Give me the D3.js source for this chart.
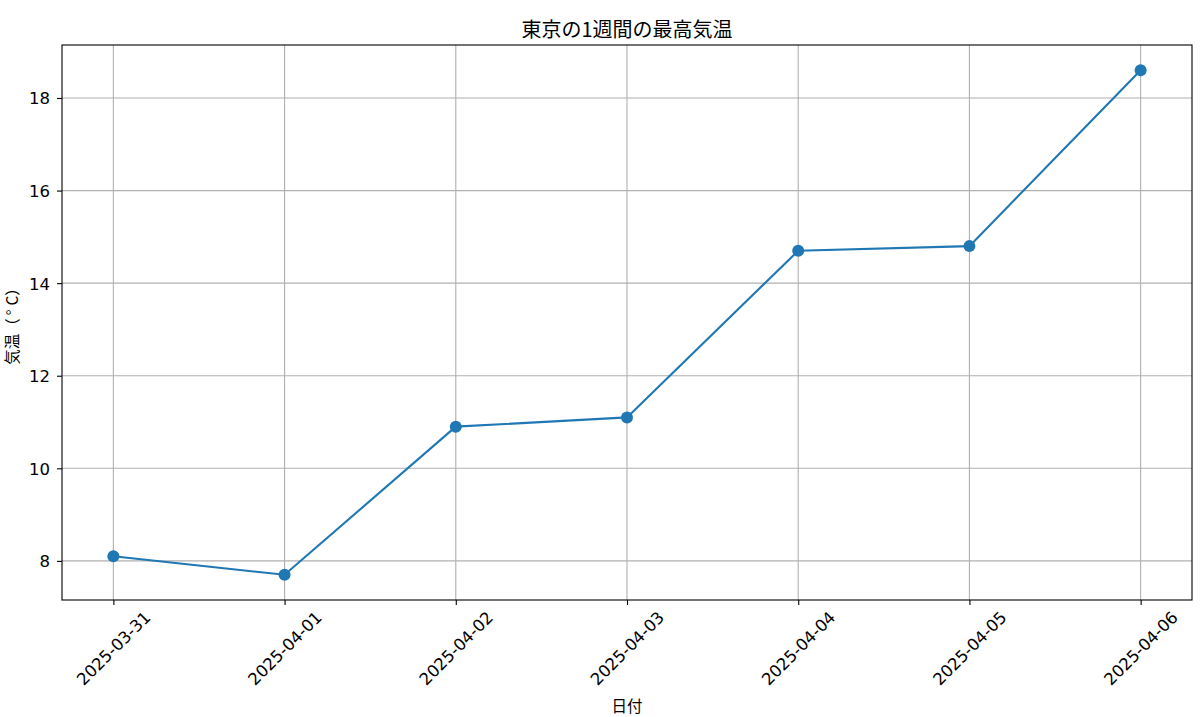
<!DOCTYPE html>
<html>
<head>
<meta charset="utf-8">
<script src="https://cdn.jsdelivr.net/npm/d3@7"></script>
<style>
  body { margin: 0; background: #fff; }
  text { font-family: "Noto Sans CJK JP", sans-serif; fill: #000; }
  .tick text { font-family: "DejaVu Sans", sans-serif; }
</style>
</head>
<body>
<div id="canvas"></div>
<script>
// data
var dates = ['2025-03-31','2025-04-01','2025-04-02','2025-04-03','2025-04-04','2025-04-05','2025-04-06'];
var temps = [8.1, 7.7, 10.9, 11.1, 14.7, 14.8, 18.6];
var yTicks = [8, 10, 12, 14, 16, 18];

var W = 1200, H = 717;
var m = {t:45, r:8, b:117, l:62};
var w = W - m.l - m.r,
    h = H - m.t - m.b;

var svg = d3.select('#canvas').append('svg')
    .attr('width', W).attr('height', H);

var plot = svg.append('g')
    .attr('transform', 'translate(' + m.l + ',' + m.t + ')');

// matplotlib style 5% margins
var n = dates.length;
var scaleX = d3.scaleLinear()
    .domain([-0.3, n - 1 + 0.3])
    .range([0, w]);

var minY = d3.min(temps), maxY = d3.max(temps);
var pad = (maxY - minY) * 0.05;
var scaleY = d3.scaleLinear()
    .domain([minY - pad, maxY + pad])
    .range([h, 0]);

// grid
plot.append('g').selectAll('line')
    .data(dates).enter().append('line')
    .attr('x1', function(d, i){ return scaleX(i); })
    .attr('x2', function(d, i){ return scaleX(i); })
    .attr('y1', 0).attr('y2', h)
    .attr('stroke', '#b0b0b0').attr('stroke-width', 1.1);

plot.append('g').selectAll('line')
    .data(yTicks).enter().append('line')
    .attr('x1', 0).attr('x2', w)
    .attr('y1', function(d){ return scaleY(d); })
    .attr('y2', function(d){ return scaleY(d); })
    .attr('stroke', '#b0b0b0').attr('stroke-width', 1.1);

// axes
var axisY = d3.axisLeft(scaleY)
    .tickValues(yTicks)
    .tickSize(5)
    .tickPadding(7)
    .tickFormat(d3.format('d'));
var gy = plot.append('g').call(axisY);
gy.select('.domain').remove();
gy.selectAll('text').style('font-size', '16.5px').attr('font-family', null)
    .attr('dy', '0.36em');
gy.selectAll('line').attr('stroke', '#000').attr('stroke-width', 1.1);

var axisX = d3.axisBottom(scaleX)
    .tickValues(d3.range(n))
    .tickSize(5)
    .tickFormat(function(i){ return dates[i]; });
var gx = plot.append('g')
    .attr('transform', 'translate(0,' + h + ')')
    .call(axisX);
gx.select('.domain').remove();
gx.selectAll('line').attr('stroke', '#000').attr('stroke-width', 1.1);

// rotate tick labels 45deg, centred on tick like matplotlib (ha=center)
gx.selectAll('.tick text')
    .style('font-size', '16.5px')
    .attr('font-family', null)
    .attr('text-anchor', 'middle')
    .attr('dominant-baseline', 'central')
    .attr('dy', null)
    .each(function(){
        var t = d3.select(this);
        var tw = this.getComputedTextLength();
        var th = 13;
        var half = (tw + th) / Math.SQRT2 / 2;
        var cy = 5 + 5 + half;
        t.attr('x', 0).attr('y', cy)
         .attr('transform', 'rotate(-45,0,' + cy + ')');
    });

// frame
plot.append('rect')
    .attr('x', 0).attr('y', 0).attr('width', w).attr('height', h)
    .attr('fill', 'none').attr('stroke', '#000').attr('stroke-width', 1.1);

// line
var line = d3.line()
    .x(function(d, i){ return scaleX(i); })
    .y(function(d){ return scaleY(d); });

plot.append('path')
    .datum(temps)
    .attr('d', line)
    .attr('fill', 'none')
    .attr('stroke', '#1f77b4')
    .attr('stroke-width', 2.1);

plot.selectAll('circle')
    .data(temps).enter().append('circle')
    .attr('cx', function(d, i){ return scaleX(i); })
    .attr('cy', function(d){ return scaleY(d); })
    .attr('r', 6)
    .attr('fill', '#1f77b4');

// titles
svg.append('text')
    .attr('x', m.l + w / 2).attr('y', 37)
    .attr('text-anchor', 'middle')
    .style('font-size', '20px')
    .text('東京の1週間の最高気温');

svg.append('text')
    .attr('x', m.l + w / 2).attr('y', 712)
    .attr('text-anchor', 'middle')
    .style('font-size', '15.5px')
    .text('日付');

var yl = svg.append('text')
    .attr('transform', 'translate(18,' + (m.t + h / 2) + ') rotate(-90)')
    .attr('text-anchor', 'middle')
    .style('font-size', '15.5px');
yl.append('tspan').text('気温（');
yl.append('tspan').attr('dx', 3).text('°');
yl.append('tspan').attr('dx', 4).text('C）');
</script>
</body>
</html>
